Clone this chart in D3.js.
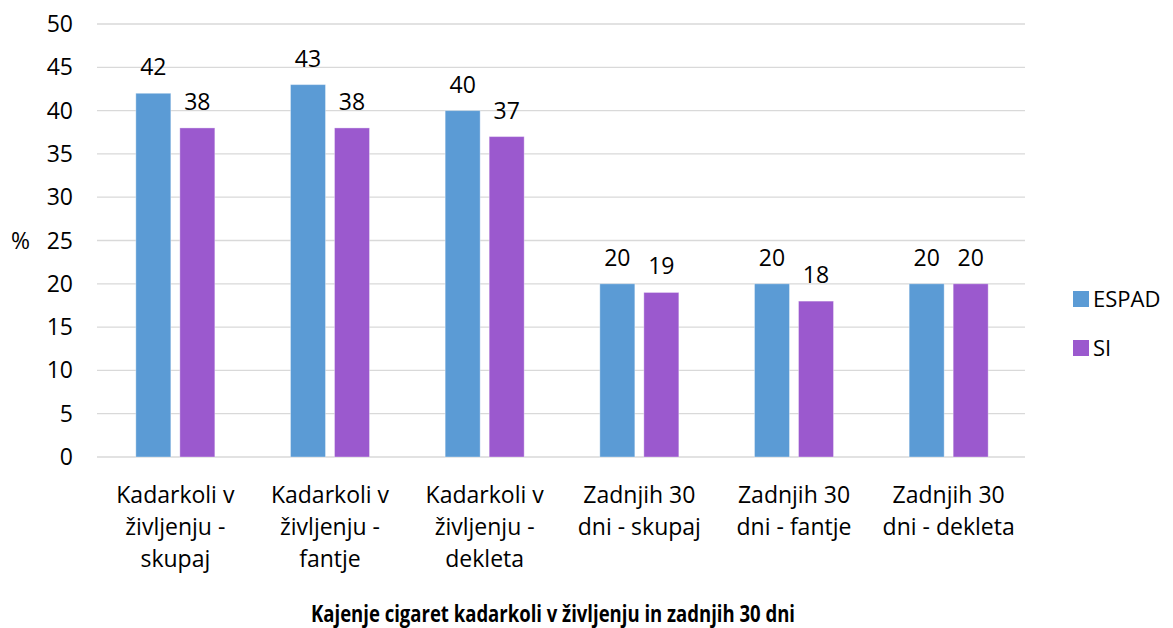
<!doctype html>
<html>
<head>
  <meta charset="utf-8">
  <script src="https://cdnjs.cloudflare.com/ajax/libs/d3/7.8.5/d3.min.js"></script>
  <style>
    body { margin: 0; background: #fff; }
    svg { display: block; font-family: "Open Sans", sans-serif; }
  </style>
</head>
<body>
  <svg width="1173" height="628"></svg>
  <script>
    var categories = [
      ["Kadarkoli v", "življenju -", "skupaj"],
      ["Kadarkoli v", "življenju -", "fantje"],
      ["Kadarkoli v", "življenju -", "dekleta"],
      ["Zadnjih 30", "dni - skupaj"],
      ["Zadnjih 30", "dni - fantje"],
      ["Zadnjih 30", "dni - dekleta"]
    ];
    var seriesNames = ["ESPAD", "SI"];
    var espad = [42, 43, 40, 20, 20, 20];
    var si = [38, 38, 37, 19, 18, 20];
    var yTicks = [0, 5, 10, 15, 20, 25, 30, 35, 40, 45, 50];
    var colors = ["#5B9BD5", "#9B59CE"];
    var title = "Kajenje cigaret kadarkoli v življenju in zadnjih 30 dni";

    var svg = d3.select("svg");
    var mLeft = 97, mRight = 1025, mTop = 24, mBottom = 457;
    var fs = 23;

    var x = d3.scaleBand().domain(d3.range(categories.length)).range([mLeft, mRight]);
    var xs = d3.scaleBand().domain([0, 1]).range([0, 79]).paddingInner(0.205);
    var y = d3.scaleLinear().domain([0, 50]).range([mBottom, mTop]);
    var groupX = i => x(i) + (x.bandwidth() - 79) / 2 + 1;

    // gridlines
    svg.append("g").selectAll("line").data(yTicks).enter().append("line")
      .attr("x1", mLeft).attr("x2", mRight)
      .attr("y1", d => y(d)).attr("y2", d => y(d))
      .attr("stroke", "#d9d9d9").attr("stroke-width", 1.3);

    // y tick labels
    svg.append("g").selectAll("text").data(yTicks).enter().append("text")
      .attr("x", 73).attr("y", d => y(d) + 8)
      .attr("text-anchor", "end")
      .attr("font-size", fs).attr("fill", "#000")
      .text(d => d);

    svg.append("text").attr("x", 11).attr("y", 249)
      .attr("font-size", fs).text("%");

    var series = [espad, si];
    series.forEach(function (vals, s) {
      var g = svg.append("g");
      g.selectAll("rect").data(vals).enter().append("rect")
        .attr("x", (d, i) => groupX(i) + xs(s))
        .attr("y", d => y(d))
        .attr("width", xs.bandwidth())
        .attr("height", d => mBottom - y(d))
        .attr("fill", colors[s])
        .attr("stroke", "#fff").attr("stroke-opacity", 0.35).attr("stroke-width", 1);
      g.selectAll("text").data(vals).enter().append("text")
        .attr("x", (d, i) => groupX(i) + xs(s) + xs.bandwidth() / 2)
        .attr("y", d => y(d) - 18)
        .attr("text-anchor", "middle")
        .attr("font-size", fs)
        .text(d => d);
    });

    // category labels
    var cat = svg.append("g").selectAll("text").data(categories).enter().append("text")
      .attr("text-anchor", "middle")
      .attr("font-size", fs)
      .attr("x", (d, i) => x(i) + x.bandwidth() / 2 + 1);
    cat.selectAll("tspan").data(d => d).enter().append("tspan")
      .attr("x", function () { return d3.select(this.parentNode).attr("x"); })
      .attr("y", (d, j) => 503 + j * 32)
      .text(d => d);

    // legend
    var leg = svg.append("g").selectAll("g").data(seriesNames).enter().append("g")
      .attr("transform", (d, i) => "translate(1073," + (291 + i * 49) + ")");
    leg.append("rect").attr("width", 16).attr("height", 16).attr("fill", (d, i) => colors[i]);
    leg.append("text").attr("x", 20).attr("y", 16).attr("font-size", fs - 1).text(d => d);

    svg.append("text").attr("x", 311).attr("y", 622)
      .attr("font-size", 23.5).attr("font-weight", "bold")
      .attr("textLength", 484).attr("lengthAdjust", "spacingAndGlyphs")
      .text(title);
  </script>
</body>
</html>
